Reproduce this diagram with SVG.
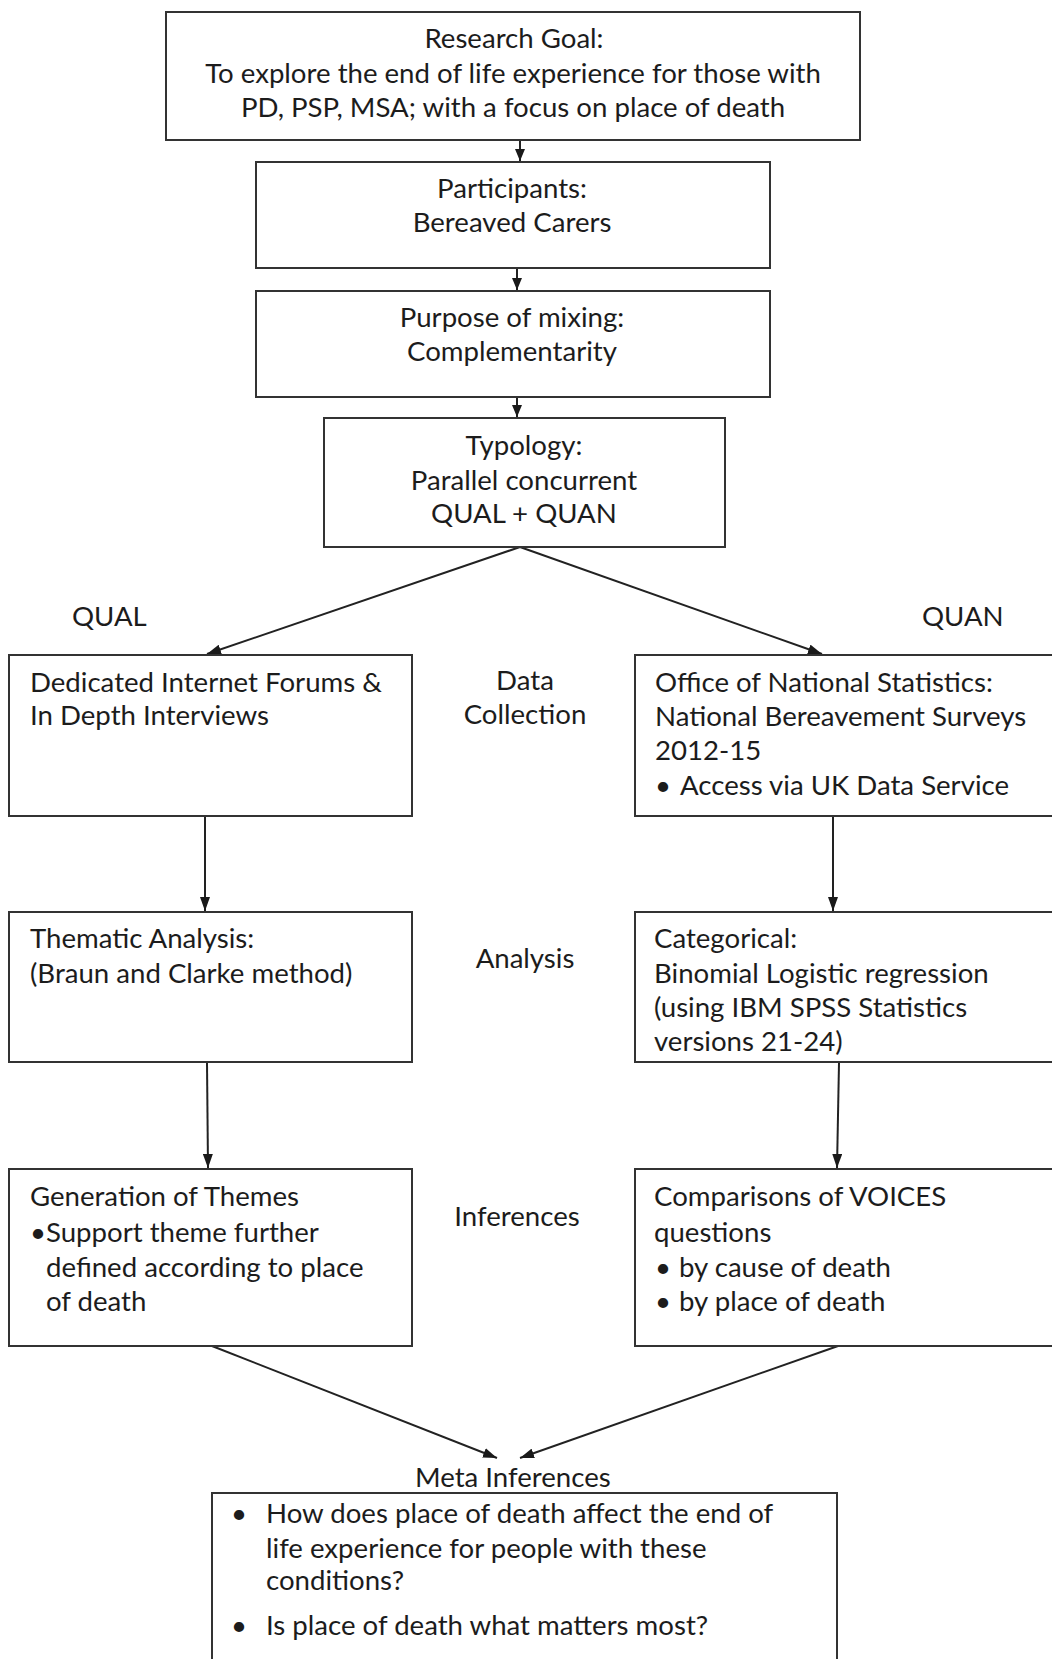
<svg xmlns="http://www.w3.org/2000/svg" width="1052" height="1659" viewBox="0 0 1052 1659">
  <defs>
    <style>
      .box { fill: #ffffff; stroke: #333333; stroke-width: 2; }
      .link { fill: none; stroke: #222222; stroke-width: 2; }
      .t { font-family: Lato, "Liberation Sans", sans-serif; font-size: 27.6px; fill: #1c1c1c; }
      .c { text-anchor: middle; }
    </style>
    <marker id="head" viewBox="0 0 14 10" refX="14" refY="5" markerWidth="14" markerHeight="10" markerUnits="userSpaceOnUse" orient="auto">
      <path d="M0,0 L14,5 L0,10 z" fill="#1a1a1a"/>
    </marker>
    <marker id="headSmall" viewBox="0 0 12 10" refX="12" refY="5" markerWidth="12" markerHeight="10" markerUnits="userSpaceOnUse" orient="auto">
      <path d="M0,0 L12,5 L0,10 z" fill="#1a1a1a"/>
    </marker>
  </defs>

  <rect width="1052" height="1659" fill="#ffffff"/>

  <!-- connectors -->
  <g id="connectors">
    <line class="link" x1="520" y1="141" x2="520" y2="161" marker-end="url(#headSmall)"/>
    <line class="link" x1="517" y1="269" x2="517" y2="290" marker-end="url(#headSmall)"/>
    <line class="link" x1="517" y1="398" x2="517" y2="417" marker-end="url(#headSmall)"/>
    <line class="link" x1="520" y1="547" x2="207" y2="654" marker-end="url(#head)"/>
    <line class="link" x1="520" y1="547" x2="822" y2="654" marker-end="url(#head)"/>
    <line class="link" x1="205" y1="817" x2="205" y2="911" marker-end="url(#head)"/>
    <line class="link" x1="833" y1="817" x2="833" y2="911" marker-end="url(#head)"/>
    <line class="link" x1="207" y1="1063" x2="208" y2="1168" marker-end="url(#head)"/>
    <line class="link" x1="839" y1="1063" x2="837" y2="1168" marker-end="url(#head)"/>
    <line class="link" x1="212" y1="1346" x2="497" y2="1458" marker-end="url(#head)"/>
    <line class="link" x1="838" y1="1346" x2="520" y2="1458" marker-end="url(#head)"/>
  </g>

  <!-- research goal -->
  <g id="goal">
    <rect class="box" x="166" y="12" width="694" height="128"/>
    <text class="t c" x="514" y="48">Research Goal:</text>
    <text class="t c" x="513" y="83">To explore the end of life experience for those with</text>
    <text class="t c" x="513" y="117">PD, PSP, MSA; with a focus on place of death</text>
  </g>

  <g id="participants">
    <rect class="box" x="256" y="162" width="514" height="106"/>
    <text class="t c" x="512" y="198">Participants:</text>
    <text class="t c" x="512" y="232">Bereaved Carers</text>
  </g>

  <g id="purpose">
    <rect class="box" x="256" y="291" width="514" height="106"/>
    <text class="t c" x="512" y="327">Purpose of mixing:</text>
    <text class="t c" x="512" y="361">Complementarity</text>
  </g>

  <g id="typology">
    <rect class="box" x="324" y="418" width="401" height="129"/>
    <text class="t c" x="524" y="455">Typology:</text>
    <text class="t c" x="524" y="490">Parallel concurrent</text>
    <text class="t c" x="524" y="523">QUAL + QUAN</text>
  </g>

  <!-- strand and stage labels -->
  <g id="labels">
    <text class="t" x="72" y="626">QUAL</text>
    <text class="t" x="922" y="626">QUAN</text>
    <text class="t c" x="525" y="690">Data</text>
    <text class="t c" x="525" y="724">Collection</text>
    <text class="t c" x="525" y="968">Analysis</text>
    <text class="t c" x="517" y="1226">Inferences</text>
  </g>

  <!-- qualitative strand -->
  <g id="qual-collection">
    <rect class="box" x="9" y="655" width="403" height="161"/>
    <text class="t" x="30" y="692">Dedicated Internet Forums &amp;</text>
    <text class="t" x="30" y="725">In Depth Interviews</text>
  </g>

  <g id="qual-analysis">
    <rect class="box" x="9" y="912" width="403" height="150"/>
    <text class="t" x="30" y="948">Thematic Analysis:</text>
    <text class="t" x="30" y="983">(Braun and Clarke method)</text>
  </g>

  <g id="qual-inferences">
    <rect class="box" x="9" y="1169" width="403" height="177"/>
    <text class="t" x="30" y="1206">Generation of Themes</text>
    <text class="t" x="30" y="1242">•Support theme further</text>
    <text class="t" x="46" y="1277">defined according to place</text>
    <text class="t" x="46" y="1311">of death</text>
  </g>

  <!-- quantitative strand -->
  <g id="quan-collection">
    <rect class="box" x="635" y="655" width="430" height="161"/>
    <text class="t" x="655" y="692">Office of National Statistics:</text>
    <text class="t" x="655" y="726">National Bereavement Surveys</text>
    <text class="t" x="655" y="760">2012-15</text>
    <text class="t" x="655" y="795">•</text>
    <text class="t" x="680" y="795">Access via UK Data Service</text>
  </g>

  <g id="quan-analysis">
    <rect class="box" x="635" y="912" width="430" height="150"/>
    <text class="t" x="654" y="948">Categorical:</text>
    <text class="t" x="654" y="983">Binomial Logistic regression</text>
    <text class="t" x="654" y="1017">(using IBM SPSS Statistics</text>
    <text class="t" x="654" y="1051">versions 21-24)</text>
  </g>

  <g id="quan-inferences">
    <rect class="box" x="635" y="1169" width="430" height="177"/>
    <text class="t" x="654" y="1206">Comparisons of VOICES</text>
    <text class="t" x="654" y="1242">questions</text>
    <text class="t" x="655" y="1277">•</text>
    <text class="t" x="679" y="1277">by cause of death</text>
    <text class="t" x="655" y="1311">•</text>
    <text class="t" x="679" y="1311">by place of death</text>
  </g>

  <!-- meta inferences -->
  <g id="meta">
    <text class="t" x="415" y="1487">Meta Inferences</text>
    <rect class="box" x="212" y="1493" width="625" height="180"/>
    <text class="t" x="231" y="1523">•</text>
    <text class="t" x="266" y="1523">How does place of death affect the end of</text>
    <text class="t" x="266" y="1558">life experience for people with these</text>
    <text class="t" x="266" y="1590">conditions?</text>
    <text class="t" x="231" y="1635">•</text>
    <text class="t" x="266" y="1635">Is place of death what matters most?</text>
  </g>
</svg>
